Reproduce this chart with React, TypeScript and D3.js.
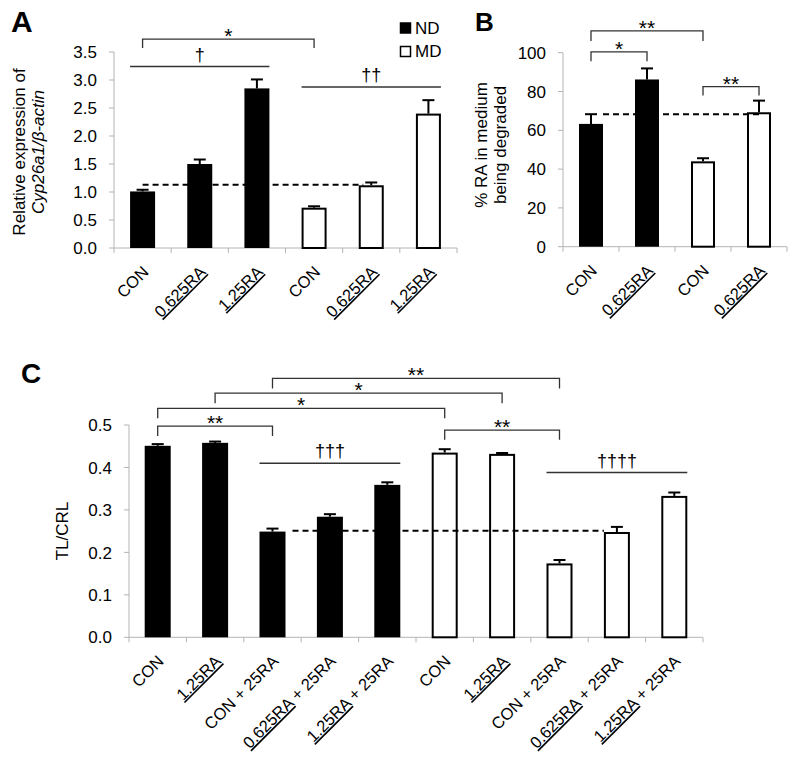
import React from "react";
import * as d3 from "d3";

// ---------- Panel A data ----------
const A_categories = ["CON", "0.625RA", "1.25RA", "CON", "0.625RA", "1.25RA"];
const A_groups = ["ND", "ND", "ND", "MD", "MD", "MD"];
const A_values = [1.01, 1.5, 2.85, 0.72, 1.12, 2.4];
const A_errors = [0.03, 0.08, 0.16, 0.025, 0.05, 0.24];
const A_ticks = [0, 0.5, 1.0, 1.5, 2.0, 2.5, 3.0, 3.5];
const A_reference = 1.13;

// ---------- Panel B data ----------
const B_categories = ["CON", "0.625RA", "CON", "0.625RA"];
const B_groups = ["ND", "ND", "MD", "MD"];
const B_values = [63.3, 86.2, 44.0, 69.3];
const B_errors = [5.0, 5.7, 1.6, 6.0];
const B_ticks = [0, 20, 40, 60, 80, 100];
const B_reference = 68.3;

// ---------- Panel C data ----------
const C_categories = [
  "CON", "1.25RA", "CON + 25RA", "0.625RA + 25RA", "1.25RA + 25RA",
  "CON", "1.25RA", "CON + 25RA", "0.625RA + 25RA", "1.25RA + 25RA",
];
const C_groups = ["ND", "ND", "ND", "ND", "ND", "MD", "MD", "MD", "MD", "MD"];
const C_values = [0.451, 0.458, 0.249, 0.284, 0.359, 0.435, 0.432, 0.174, 0.248, 0.333];
const C_errors = [0.004, 0.003, 0.007, 0.006, 0.006, 0.008, 0.002, 0.008, 0.012, 0.008];
const C_ticks = [0, 0.1, 0.2, 0.3, 0.4, 0.5];
const C_reference = 0.251;

const legendItems = ["ND", "MD"];

type Mark = { from: number; to: number; y: number; drop?: number; label: string };

const A_marks: Mark[] = [
  { from: 0, to: 3, y: 3.73, drop: 3.57, label: "*" },
  { from: 0, to: 2, y: 3.24, label: "†" },
  { from: 3, to: 5, y: 2.875, label: "††" },
];
const B_marks: Mark[] = [
  { from: 0, to: 2, y: 111.2, drop: 106, label: "**" },
  { from: 0, to: 1, y: 100.4, drop: 95.6, label: "*" },
  { from: 2, to: 3, y: 82.5, drop: 78, label: "**" },
];
const C_marks: Mark[] = [
  { from: 0, to: 2, y: 0.4975, drop: 0.474, label: "**" },
  { from: 0, to: 5, y: 0.539, drop: 0.516, label: "*" },
  { from: 1, to: 6, y: 0.575, drop: 0.551, label: "*" },
  { from: 2, to: 7, y: 0.61, drop: 0.586, label: "**" },
  { from: 5, to: 7, y: 0.488, drop: 0.465, label: "**" },
  { from: 2, to: 4, y: 0.41, label: "†††" },
  { from: 7, to: 9, y: 0.388, label: "††††" },
];

const FONT = "'Liberation Sans', Arial, Helvetica, sans-serif";
const AXIS_GRAY = "#b4b4b4";

type PanelProps = {
  categories: string[];
  groups: string[];
  values: number[];
  errors: number[];
  ticks: number[];
  tickFmt: (v: number) => string;
  domain: [number, number];
  x0: number;
  x1: number;
  yTop: number;
  yBottom: number;
  barWidth: number;
  reference: number;
  refFrom: [number, number];
  refTo: [number, number];
  marks: Mark[];
};

function XLabel({ text, x, y }: { text: string; x: number; y: number }) {
  const words = text.split(" ");
  const underlineFirst = /^[\d.]+RA$/.test(words[0]);
  const rest = words.slice(1).join(" ");
  return (
    <text
      transform={`translate(${x},${y}) rotate(-45)`}
      textAnchor="end"
      fontSize={16.5}
      fontFamily={FONT}
      fill="#000"
    >
      <tspan textDecoration={underlineFirst ? "underline" : undefined}>{words[0]}</tspan>
      {rest ? <tspan>{" " + rest}</tspan> : null}
    </text>
  );
}

function Panel(p: PanelProps) {
  const pad = 1 - p.barWidth / ((p.x1 - p.x0) / p.categories.length);
  const x = d3
    .scaleBand<number>()
    .domain(p.categories.map((_, i) => i))
    .range([p.x0, p.x1])
    .paddingInner(pad)
    .paddingOuter(pad / 2);
  const y = d3.scaleLinear().domain(p.domain).range([p.yBottom, p.yTop]);
  const step = x.step();
  const cx = (i: number) => (x(i) as number) + x.bandwidth() / 2;
  const boundaries = d3.range(p.categories.length + 1).map((i) => p.x0 + i * step);
  const refX1 = cx(p.refFrom[0]) + p.refFrom[1];
  const refX2 = cx(p.refTo[0]) + p.refTo[1];
  return (
    <g>
      {/* y axis */}
      <line x1={p.x0} x2={p.x0} y1={y(p.domain[0])} y2={y(p.domain[1])} stroke={AXIS_GRAY} strokeWidth={1} />
      {p.ticks.map((t) => (
        <g key={"yt" + t}>
          <line x1={p.x0 - 5} x2={p.x0} y1={y(t)} y2={y(t)} stroke={AXIS_GRAY} strokeWidth={1} />
          <text
            x={p.x0 - 17}
            y={y(t)}
            dy="0.36em"
            textAnchor="end"
            fontSize={17}
            fontFamily={FONT}
            fill="#000"
          >
            {p.tickFmt(t)}
          </text>
        </g>
      ))}
      {/* x axis */}
      <line x1={p.x0} x2={p.x1} y1={p.yBottom} y2={p.yBottom} stroke={AXIS_GRAY} strokeWidth={1} />
      {boundaries.map((b, i) => (
        <line key={"xt" + i} x1={b} x2={b} y1={p.yBottom} y2={p.yBottom + 5} stroke={AXIS_GRAY} strokeWidth={1} />
      ))}
      {/* bars */}
      {p.values.map((v, i) => {
        const nd = p.groups[i] === "ND";
        const bx = x(i) as number;
        const top = y(v);
        const errTop = y(v + p.errors[i]);
        return (
          <g key={"bar" + i}>
            <line x1={cx(i)} x2={cx(i)} y1={top} y2={errTop} stroke="#000" strokeWidth={2} />
            <line x1={cx(i) - 6} x2={cx(i) + 6} y1={errTop} y2={errTop} stroke="#000" strokeWidth={2} />
            <rect
              x={nd ? bx : bx + 1}
              y={nd ? top : top + 1}
              width={nd ? x.bandwidth() : x.bandwidth() - 2}
              height={nd ? p.yBottom - top : p.yBottom - top - 1}
              fill={nd ? "#000" : "#fff"}
              stroke={nd ? "none" : "#000"}
              strokeWidth={2}
            />
          </g>
        );
      })}
      {/* reference dashed line */}
      <line
        x1={refX1}
        x2={refX2}
        y1={y(p.reference)}
        y2={y(p.reference)}
        stroke="#000"
        strokeWidth={2}
        strokeDasharray="6,4"
      />
      {/* significance marks */}
      {p.marks.map((m, i) => {
        const isBracket = m.drop !== undefined;
        const xa = isBracket ? cx(m.from) : (x(m.from) as number);
        const xb = isBracket ? cx(m.to) : (x(m.to) as number) + x.bandwidth();
        const yy = y(m.y);
        const path = isBracket
          ? `M${xa},${y(m.drop as number)}V${yy}H${xb}V${y(m.drop as number)}`
          : `M${xa},${yy}H${xb}`;
        return (
          <g key={"m" + i}>
            <path d={path} fill="none" stroke="#333" strokeWidth={isBracket ? 1.3 : 1.6} />
            <text
              x={(xa + xb) / 2}
              y={isBracket ? yy + 4 : yy - 6}
              textAnchor="middle"
              fontSize={isBracket ? 21 : 18}
              fontFamily={FONT}
              fill="#000"
            >
              {m.label}
            </text>
          </g>
        );
      })}
      {/* x labels */}
      {p.categories.map((c, i) => (
        <XLabel key={"xl" + i} text={c} x={cx(i) + 7} y={p.yBottom + 25} />
      ))}
    </g>
  );
}

export default function App() {
  const fmt1 = d3.format(".1f");
  const fmt0 = d3.format("d");
  return (
    <div style={{ position: "absolute", left: 0, top: 0 }}>
      <svg width={800} height={777} viewBox="0 0 800 777" style={{ display: "block", background: "#fff" }}>
        <rect x={0} y={0} width={800} height={777} fill="#fff" />
        {/* Panel letters */}
        <text x={11} y={32} fontSize={30} fontWeight="bold" fontFamily={FONT}>A</text>
        <text x={475} y={31} fontSize={26} fontWeight="bold" fontFamily={FONT}>B</text>
        <text x={21} y={383} fontSize={28} fontWeight="bold" fontFamily={FONT}>C</text>

        {/* Panel A */}
        <Panel
          categories={A_categories}
          groups={A_groups}
          values={A_values}
          errors={A_errors}
          ticks={A_ticks}
          tickFmt={fmt1}
          domain={[0, 3.5]}
          x0={114}
          x1={457}
          yTop={52}
          yBottom={248}
          barWidth={25}
          reference={A_reference}
          refFrom={[0, 0]}
          refTo={[4, -8]}
          marks={A_marks}
        />
        <text
          transform="translate(25,152) rotate(-90)"
          textAnchor="middle"
          fontSize={17}
          fontFamily={FONT}
        >
          Relative expression of
        </text>
        <text
          transform="translate(44,152) rotate(-90)"
          textAnchor="middle"
          fontSize={17}
          fontFamily={FONT}
          fontStyle="italic"
        >
          Cyp26a1/β-actin
        </text>
        {/* Legend */}
        {legendItems.map((g, i) => (
          <g key={g}>
            <rect
              x={400.5}
              y={23 + i * 23.5}
              width={10}
              height={10}
              fill={g === "ND" ? "#000" : "#fff"}
              stroke="#000"
              strokeWidth={1.5}
            />
            <text x={415} y={33.5 + i * 23.5} fontSize={17} fontFamily={FONT}>
              {g}
            </text>
          </g>
        ))}

        {/* Panel B */}
        <Panel
          categories={B_categories}
          groups={B_groups}
          values={B_values}
          errors={B_errors}
          ticks={B_ticks}
          tickFmt={fmt0}
          domain={[0, 100]}
          x0={563}
          x1={787}
          yTop={52.7}
          yBottom={246.7}
          barWidth={24}
          reference={B_reference}
          refFrom={[0, 12]}
          refTo={[3, 0]}
          marks={B_marks}
        />
        <text
          transform="translate(487,145) rotate(-90)"
          textAnchor="middle"
          fontSize={17}
          fontFamily={FONT}
        >
          % RA in medium
        </text>
        <text
          transform="translate(506,145) rotate(-90)"
          textAnchor="middle"
          fontSize={17}
          fontFamily={FONT}
        >
          being degraded
        </text>

        {/* Panel C */}
        <Panel
          categories={C_categories}
          groups={C_groups}
          values={C_values}
          errors={C_errors}
          ticks={C_ticks}
          tickFmt={fmt1}
          domain={[0, 0.5]}
          x0={129}
          x1={703}
          yTop={425}
          yBottom={637.3}
          barWidth={26}
          reference={C_reference}
          refFrom={[2, 20]}
          refTo={[8, -13]}
          marks={C_marks}
        />
        <text
          transform="translate(68,531) rotate(-90)"
          textAnchor="middle"
          fontSize={17}
          fontFamily={FONT}
        >
          TL/CRL
        </text>
      </svg>
    </div>
  );
}
